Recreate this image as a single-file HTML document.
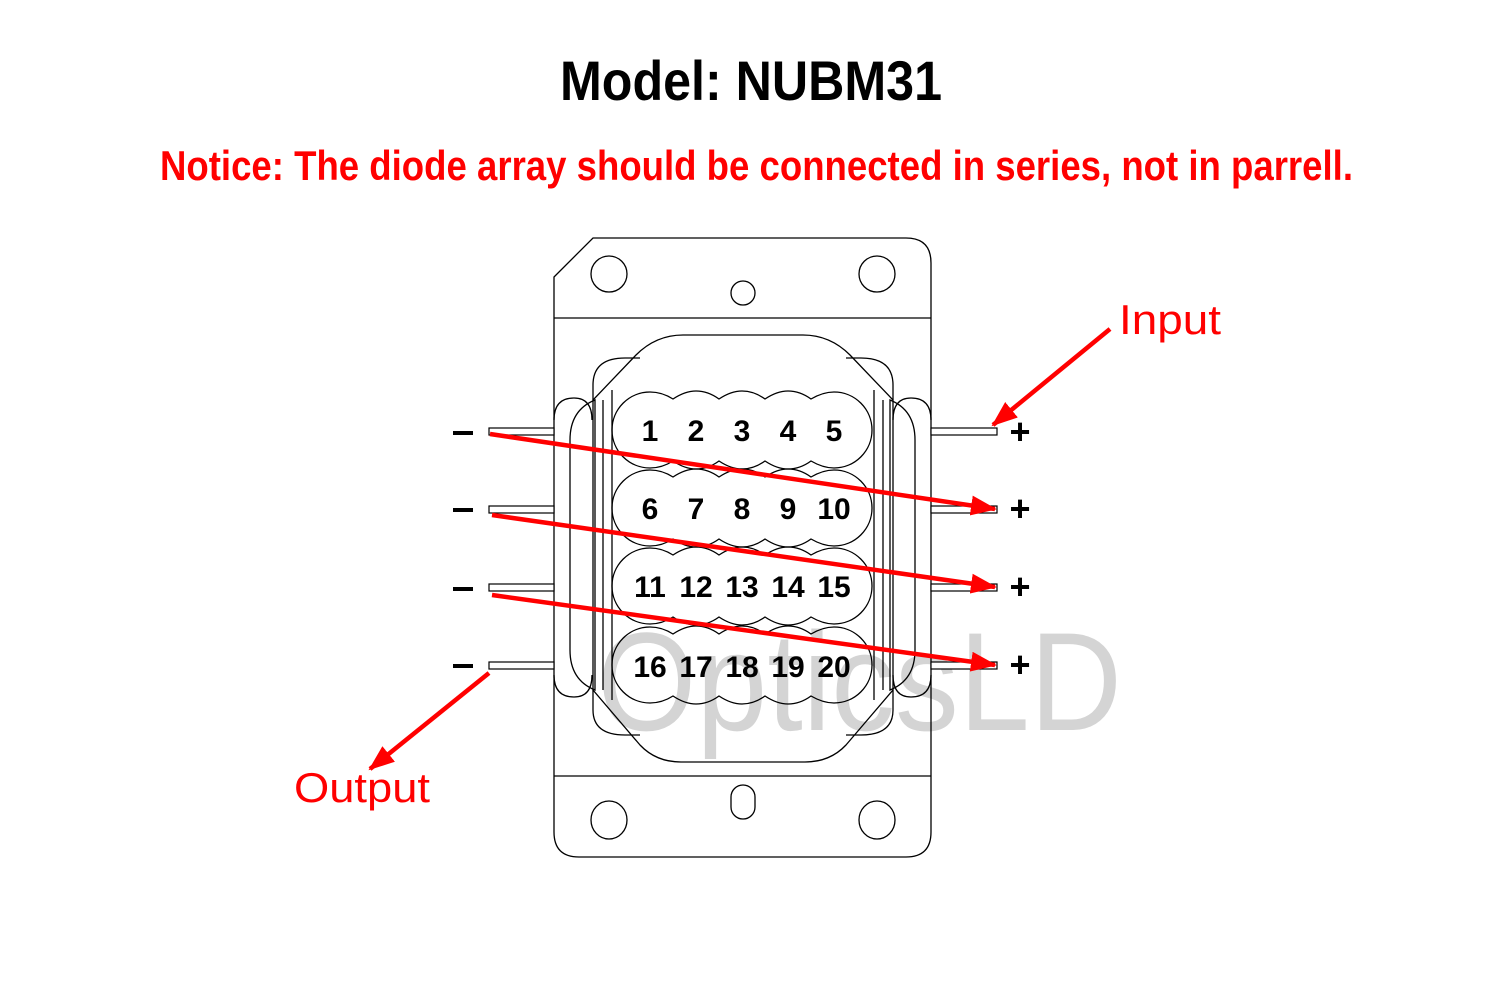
<!DOCTYPE html>
<html><head><meta charset="utf-8"><style>
html,body{margin:0;padding:0;background:#fff;}
svg{display:block;}
</style></head><body>
<svg width="1500" height="1000" viewBox="0 0 1500 1000" xmlns="http://www.w3.org/2000/svg">
<defs>
<marker id="ah2" markerWidth="26" markerHeight="20" refX="24" refY="10" orient="auto" markerUnits="userSpaceOnUse">
<path d="M0,0 L26,10 L0,20 z" fill="#f00"/>
</marker>
</defs>
<text x="751" y="100" font-family="Liberation Sans, sans-serif" font-size="56" font-weight="bold" text-anchor="middle" textLength="382" lengthAdjust="spacingAndGlyphs">Model: NUBM31</text>
<text x="160" y="180" font-family="Liberation Sans, sans-serif" font-size="42" font-weight="bold" fill="#f00" textLength="1193" lengthAdjust="spacingAndGlyphs">Notice: The diode array should be connected in series, not in parrell.</text>

<!-- watermark -->
<text x="597" y="730" font-family="Liberation Sans, sans-serif" font-size="140" fill="#d4d4d4" textLength="525" lengthAdjust="spacingAndGlyphs">OpticsLD</text>

<g fill="none" stroke="#000" stroke-width="1.3">
<path d="M554,277 L593,238 L906,238 Q931,238 931,263 L931,832 Q931,857 906,857 L579,857 Q554,857 554,832 Z"/>
<line x1="554" y1="318" x2="931" y2="318"/>
<line x1="554" y1="776" x2="931" y2="776"/>
<circle cx="609" cy="274" r="18"/>
<circle cx="877" cy="274" r="18"/>
<circle cx="743" cy="293" r="12"/>
<ellipse cx="609" cy="820" rx="18" ry="19"/>
<ellipse cx="877" cy="820" rx="18" ry="19"/>
<rect x="731" y="785" width="24" height="34" rx="12"/>
<path d="M554,420 Q554,398 574,398 Q592,398 592,420 M554,675 Q554,697 574,697 Q592,697 592,675"/>
<path d="M931,420 Q931,398 911,398 Q893,398 893,420 M931,675 Q931,697 911,697 Q893,697 893,675"/>
<path d="M570,440 Q570,410 595,400 L595,690 Q570,680 570,650 Z"/>
<path d="M915,440 Q915,410 890,400 L890,690 Q915,680 915,650 Z"/>
<path d="M593,400 L593,385 Q593,358 625,358 L640,358"/>
<path d="M893,400 L893,385 Q893,358 861,358 L846,358"/>
<path d="M593,690 L593,710 Q593,735 625,735 L640,735"/>
<path d="M893,690 L893,710 Q893,735 861,735 L846,735"/>
<path d="M683,335 L803,335 Q830,335 850,355 L893,400 L893,690 L846,745 Q830,762 805,762 L681,762 Q656,762 640,745 L593,690 L593,400 L636,355 Q656,335 683,335 Z"/>
<line x1="603" y1="400" x2="603" y2="690"/>
<line x1="612" y1="390" x2="612" y2="700"/>
<line x1="874" y1="390" x2="874" y2="700"/>
<line x1="883" y1="400" x2="883" y2="690"/>
<path id="row" d="M650,392 Q662,392 673,399 Q685,391 696,391 Q708,391 719,399 Q731,391 742,391 Q754,391 765,399 Q777,391 788,391 Q800,391 811,399 Q823,392 834,392 A38,38 0 0 1 834,468 Q823,468 811,461 Q800,469 788,469 Q777,469 765,461 Q754,469 742,469 Q731,469 719,461 Q708,469 696,469 Q685,469 673,461 Q662,468 650,468 A38,38 0 0 1 650,392 Z"/>
<use href="#row" y="78"/>
<use href="#row" y="156"/>
<use href="#row" y="235"/>
</g>
<g font-family="Liberation Sans, sans-serif" font-size="30" font-weight="bold" text-anchor="middle">
<text x="650" y="441">1</text><text x="696" y="441">2</text><text x="742" y="441">3</text><text x="788" y="441">4</text><text x="834" y="441">5</text>
<text x="650" y="519">6</text><text x="696" y="519">7</text><text x="742" y="519">8</text><text x="788" y="519">9</text><text x="834" y="519">10</text>
<text x="650" y="597">11</text><text x="696" y="597">12</text><text x="742" y="597">13</text><text x="788" y="597">14</text><text x="834" y="597">15</text>
<text x="650" y="677">16</text><text x="696" y="677">17</text><text x="742" y="677">18</text><text x="788" y="677">19</text><text x="834" y="677">20</text>
</g>
<g fill="#fff" stroke="#000" stroke-width="1.2">
<rect x="489" y="428" width="65" height="7"/><rect x="489" y="506" width="65" height="7"/><rect x="489" y="584" width="65" height="7"/><rect x="489" y="662" width="65" height="7"/>
<rect x="931" y="428" width="66" height="7"/><rect x="931" y="506" width="66" height="7"/><rect x="931" y="584" width="66" height="7"/><rect x="931" y="662" width="66" height="7"/>
</g>
<g fill="#000">
<rect x="453" y="431" width="20" height="4"/><rect x="453" y="508" width="20" height="4"/><rect x="453" y="587" width="20" height="4"/><rect x="453" y="664" width="20" height="4"/>
</g>
<g font-family="Liberation Sans, sans-serif" font-size="36" font-weight="bold" text-anchor="middle">
<text x="1020" y="444">+</text><text x="1020" y="521">+</text><text x="1020" y="599">+</text><text x="1020" y="677">+</text>
</g>
<g stroke="#f00" stroke-width="4.5" fill="none">
<line x1="490" y1="434" x2="995" y2="509" marker-end="url(#ah2)"/>
<line x1="492" y1="515" x2="995" y2="587" marker-end="url(#ah2)"/>
<line x1="492" y1="595" x2="995" y2="665" marker-end="url(#ah2)"/>
<line x1="1110" y1="329" x2="993" y2="425" marker-end="url(#ah2)"/>
<line x1="489" y1="673" x2="370" y2="769" marker-end="url(#ah2)"/>
</g>
<text x="1119" y="334" font-family="Liberation Sans, sans-serif" font-size="42" fill="#f00" textLength="102" lengthAdjust="spacingAndGlyphs">Input</text>
<text x="294" y="802" font-family="Liberation Sans, sans-serif" font-size="42" fill="#f00" textLength="136" lengthAdjust="spacingAndGlyphs">Output</text>
</svg>
</body></html>
